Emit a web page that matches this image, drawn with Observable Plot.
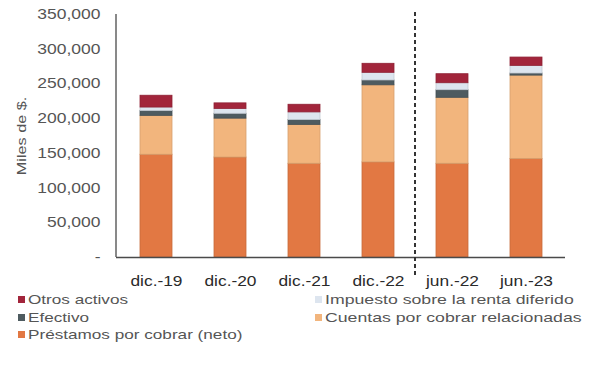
<!DOCTYPE html>
<html>
<head>
<meta charset="utf-8">
<script src="https://cdn.jsdelivr.net/npm/d3@7"></script>
<script src="https://cdn.jsdelivr.net/npm/@observablehq/plot@0.6"></script>
<style>
  html, body { margin: 0; padding: 0; background: #fff; }
  body { width: 592px; height: 368px; overflow: hidden; font-family: "Liberation Sans", Arial, sans-serif; }
  #legend { position: relative; height: 78px; font-size: 13.5px; color: #555; }
  .item { position: absolute; display: flex; align-items: center; line-height: 17px; white-space: nowrap; }
  .sw { width: 7px; height: 7px; margin-right: 3px; display: inline-block; }
  .txt { display: inline-block; transform: scaleX(1.27); transform-origin: 0 50%; }
</style>
</head>
<body>
<div id="chart"></div>
<div id="legend"></div>
<script>
// Periods on the x axis (the dashed rule separates year-end and mid-year figures)
const periodos = ["dic.-19", "dic.-20", "dic.-21", "dic.-22", "jun.-22", "jun.-23"];

// Stack components, bottom to top
const series = [
  "Préstamos por cobrar (neto)",
  "Cuentas por cobrar relacionadas",
  "Efectivo",
  "Impuesto sobre la renta diferido",
  "Otros activos"
];

// Values in thousands of $
const prestamos = [148000, 144000, 135000, 137000, 135000, 142000];
const cuentas   = [ 56000,  56000,  56000, 111000,  95000, 120000];
const efectivo  = [  7000,   7000,   7000,   7000,  11000,   3000];
const impuesto  = [  5000,   7000,  11000,  11000,  10000,  11000];
const otros     = [ 17000,   8000,  11000,  13000,  13000,  12000];

const colores = ["#e27843", "#f2b57d", "#4e5b60", "#dde5ef", "#a2253b"];

const yTicks = [0, 50000, 100000, 150000, 200000, 250000, 300000, 350000];

// Legend layout: two columns
const legendLeft = ["Otros activos", "Efectivo", "Préstamos por cobrar (neto)"];
const legendRight = ["Impuesto sobre la renta diferido", "Cuentas por cobrar relacionadas"];

const valores = [prestamos, cuentas, efectivo, impuesto, otros];
const rows = [];
periodos.forEach((p, i) => {
  series.forEach((s, k) => rows.push({periodo: p, serie: s, valor: valores[k][i], color: colores[k]}));
});

const fmt = d3.format(",");

// Dashed divider between the annual and half-year groups, plus the left axis line
function extras(index, scales, values, dimensions) {
  const {x, y} = scales;
  const {marginLeft, marginBottom, height} = dimensions;
  const bw = typeof x.bandwidth === "function" ? x.bandwidth() : 0;
  const xm = (x("dic.-22") + bw + x("jun.-22")) / 2;
  const g = d3.create("svg:g");
  g.append("line")
    .attr("x1", marginLeft).attr("x2", marginLeft)
    .attr("y1", y(350000)).attr("y2", y(0))
    .attr("stroke", "#4a4a4a").attr("stroke-width", 1.3);
  g.append("line")
    .attr("x1", xm).attr("x2", xm)
    .attr("y1", y(350000) - 2).attr("y2", height - marginBottom + 20)
    .attr("stroke", "#333").attr("stroke-width", 2)
    .attr("stroke-dasharray", "4,3");
  return g.node();
}

const chart = Plot.plot({
  width: 592,
  height: 291,
  marginLeft: 116,
  marginRight: 27,
  marginTop: 14,
  marginBottom: 34,
  style: {fontFamily: "Liberation Sans, Arial, sans-serif", background: "#fff"},
  x: {domain: periodos, paddingInner: 0.57, paddingOuter: 0.285, label: null},
  y: {domain: [0, 350000], label: null},
  color: {type: "identity"},
  marks: [
    Plot.axisY({
      ticks: yTicks,
      tickSize: 0,
      tickPadding: 16,
      tickFormat: d => d === 0 ? "-" : fmt(d),
      fontSize: 14,
      fill: "#555",
      label: "Miles de $.",
      labelAnchor: "center",
      labelOffset: 100,
      labelArrow: "none"
    }),
    Plot.axisX({tickSize: 0, tickPadding: 19, fontSize: 14, fill: "#2a2a2a", label: null}),
    Plot.barY(rows, Plot.stackY({
      x: "periodo",
      y: "valor",
      z: "serie",
      fill: "color",
      stroke: d => d3.color(d.color).darker(0.35).formatHex(),
      strokeWidth: 0.8
    })),
    Plot.ruleY([0], {stroke: "#4a4a4a", strokeWidth: 1.3}),
    extras
  ]
});

// Widen the axis typography horizontally
function widen(selector, k) {
  chart.querySelectorAll(selector).forEach(t => {
    const tr = t.getAttribute("transform") || "";
    t.setAttribute("transform", `${tr} scale(${k},1)`);
  });
}
widen('g[aria-label="y-axis tick label"] text', 1.25);
widen('g[aria-label="x-axis tick label"] text', 1.24);
widen('g[aria-label="y-axis label"] text', 1.2);
chart.querySelectorAll('g[aria-label="y-axis label"] text').forEach(t => t.setAttribute("font-size", 13.5));

document.getElementById("chart").appendChild(chart);

const colorOf = new Map(series.map((s, k) => [s, colores[k]]));
const legend = d3.select("#legend");
function addItems(list, left, k) {
  list.forEach((s, i) => {
    const it = legend.append("div").attr("class", "item")
      .style("left", left + "px").style("top", (i * 17.5) + "px");
    it.append("span").attr("class", "sw").style("background", colorOf.get(s));
    it.append("span").attr("class", "txt").style("transform", `scaleX(${k})`).text(s);
  });
}
addItems(legendLeft, 18, 1.27);
addItems(legendRight, 315, 1.31);
</script>
</body>
</html>
